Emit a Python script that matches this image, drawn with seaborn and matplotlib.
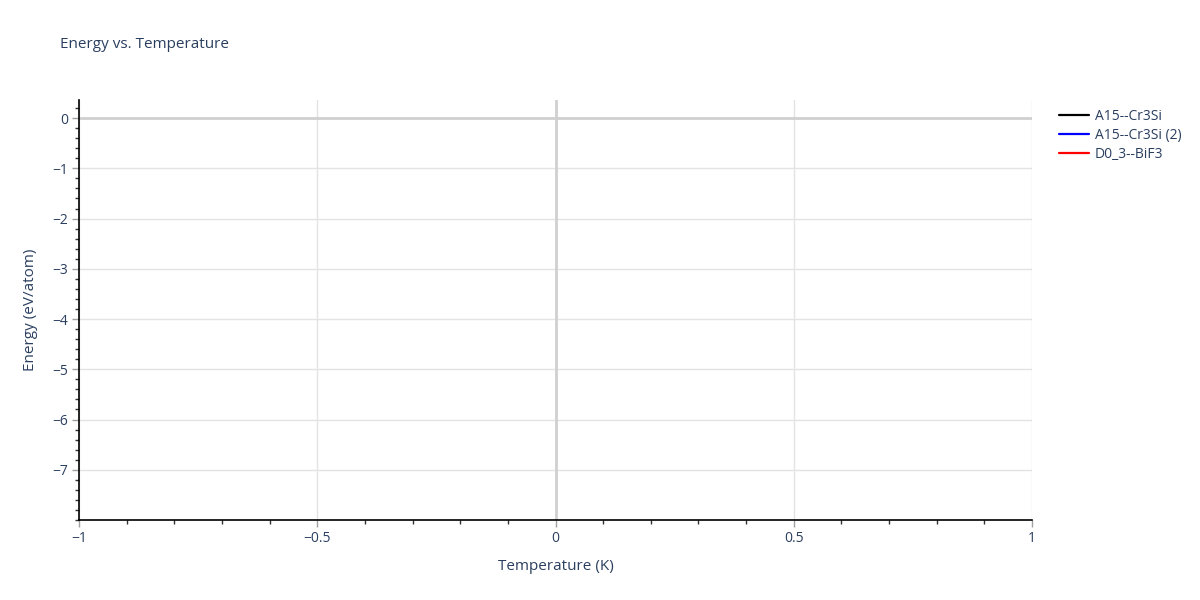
import numpy as np
import matplotlib
matplotlib.use("Agg")
import matplotlib.pyplot as plt
from matplotlib.ticker import MultipleLocator
import seaborn as sns

# structures in the legend, no energy points were recorded
names = ["A15--Cr3Si", "A15--Cr3Si (2)", "D0_3--BiF3"]
colors = ["black", "blue", "red"]
temperatures = [[], [], []]
energies = [[], [], []]

sns.set_style("white")
plt.rcParams['font.family'] = ['Open Sans', 'DejaVu Sans']
text_color = "#2a3f5f"

fig = plt.figure(figsize=(12, 6), dpi=100)
ax = fig.add_axes([79 / 1200, 1 - 520 / 600, (1032 - 79) / 1200, 420 / 600])

for name, col, t, e in zip(names, colors, temperatures, energies):
    ax.plot(t, e, color=col, lw=1.6, label=name)
    sns.lineplot(x=t, y=e, color=col, ax=ax)

ax.set_xlim(-1, 1)
ax.set_ylim(-8, 0.36)

ax.xaxis.set_minor_locator(MultipleLocator(0.1))
ax.yaxis.set_minor_locator(MultipleLocator(0.2))
ax.set_xticks([-1, -0.5, 0, 0.5, 1])
ax.set_xticklabels(["\u22121", "\u22120.5", "0", "0.5", "1"])
yt = list(range(-7, 1))
ax.set_yticks(yt)
ax.set_yticklabels([("\u2212%d" % -v) if v < 0 else "0" for v in yt])

ax.grid(True, which="major", color="#e3e3e3", lw=1)
ax.axhline(0, color="#d0d0d0", lw=2, zorder=1)
ax.axvline(0, color="#d0d0d0", lw=2, zorder=1)

for s in ["top", "right"]:
    ax.spines[s].set_visible(False)
for s in ["left", "bottom"]:
    ax.spines[s].set_color("black")
    ax.spines[s].set_linewidth(1.2)

ax.tick_params(which="major", direction="out", length=5, width=1, color="#a0a0a0",
               labelsize=10, labelcolor=text_color, pad=3, left=True, bottom=True)
ax.tick_params(which="minor", direction="out", length=3, width=1, color="#333333",
               left=True, bottom=True)

ax.set_xlabel("Temperature (K)", fontsize=11, color=text_color, labelpad=9)
ax.set_ylabel("Energy (eV/atom)", fontsize=11, color=text_color, labelpad=10)
fig.text(60 / 1200, 1 - 45 / 600, "Energy vs. Temperature", fontsize=11,
         color=text_color, va="center", ha="left")

leg = ax.legend(loc="upper left", bbox_to_anchor=(1.015, 1.008), frameon=False,
                fontsize=10, handlelength=2.2, labelspacing=0.28, handletextpad=0.4)
for t in leg.get_texts():
    t.set_color(text_color)

fig.savefig("out.png", dpi=100)
